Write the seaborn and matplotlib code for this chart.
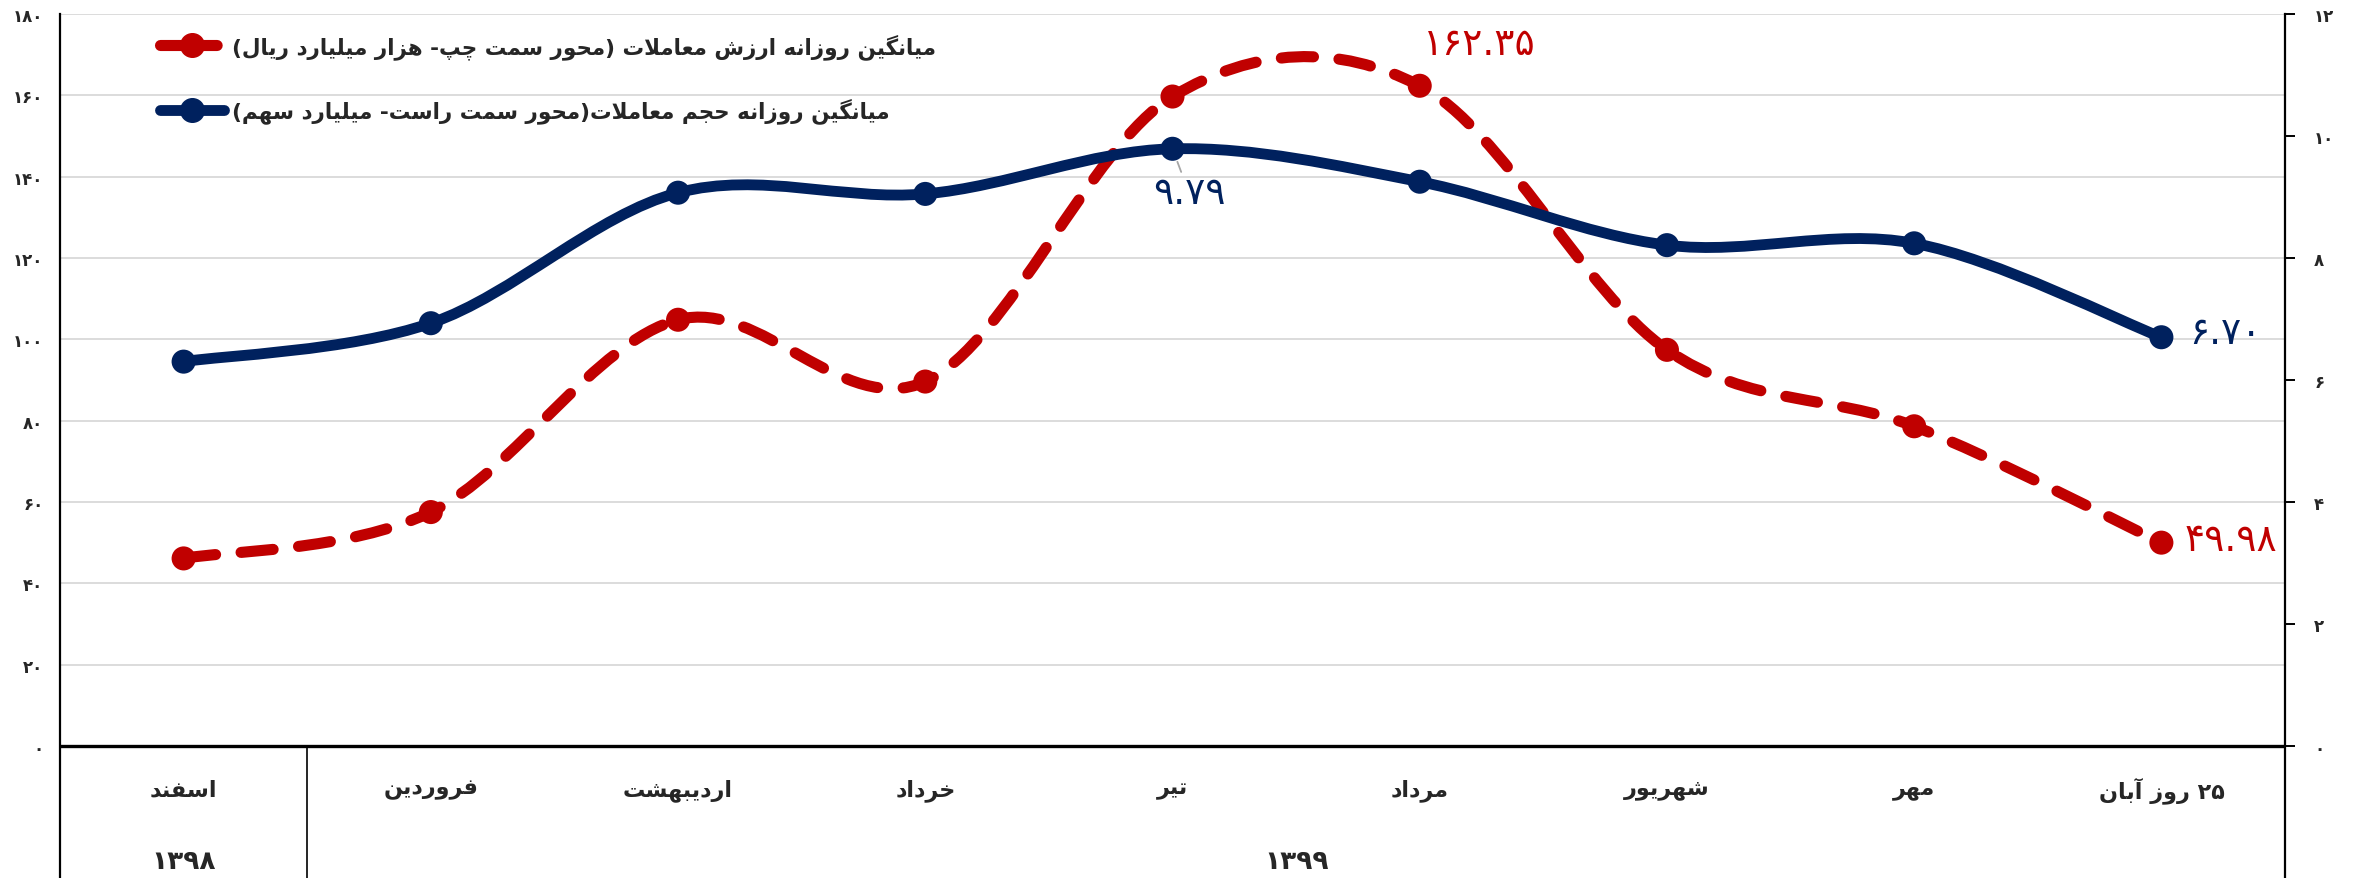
import re
import matplotlib
matplotlib.use("Agg")
import matplotlib.pyplot as plt
from matplotlib.path import Path
from matplotlib.patches import PathPatch
from matplotlib.lines import Line2D
import seaborn as sns

# data
months = ["اسفند", "فروردین", "اردیبهشت", "خرداد", "تیر", "مرداد", "شهریور", "مهر", "۲۵ روز آبان"]
years = ["۱۳۹۸", "۱۳۹۹"]
year_span = [(0, 0), (1, 8)]
value_trade = [46.1, 57.5, 104.8, 89.6, 159.7, 162.35, 97.4, 78.6, 49.98]
volume_trade = [6.30, 6.93, 9.07, 9.05, 9.79, 9.25, 8.21, 8.24, 6.70]
label_value = "میانگین روزانه ارزش معاملات (محور سمت چپ- هزار میلیارد ریال)"
label_volume = "میانگین روزانه حجم معاملات(محور سمت راست- میلیارد سهم)"
left_ticks = [0, 20, 40, 60, 80, 100, 120, 140, 160, 180]
right_ticks = [0, 2, 4, 6, 8, 10, 12]

RED = "#C00000"
BLUE = "#00215E"

# --- minimal arabic/persian shaping (matplotlib has no text shaping) ---
FORMS = {
    "ا": "\uFE8D\uFE8E", "آ": "\uFE81\uFE82", "د": "\uFEA9\uFEAA", "ذ": "\uFEAB\uFEAC",
    "ر": "\uFEAD\uFEAE", "ز": "\uFEAF\uFEB0", "ژ": "\uFB8A\uFB8B", "و": "\uFEED\uFEEE",
    "ب": "\uFE8F\uFE90\uFE91\uFE92", "پ": "\uFB56\uFB57\uFB58\uFB59",
    "ت": "\uFE95\uFE96\uFE97\uFE98", "ث": "\uFE99\uFE9A\uFE9B\uFE9C",
    "ج": "\uFE9D\uFE9E\uFE9F\uFEA0", "چ": "\uFB7A\uFB7B\uFB7C\uFB7D",
    "ح": "\uFEA1\uFEA2\uFEA3\uFEA4", "خ": "\uFEA5\uFEA6\uFEA7\uFEA8",
    "س": "\uFEB1\uFEB2\uFEB3\uFEB4", "ش": "\uFEB5\uFEB6\uFEB7\uFEB8",
    "ص": "\uFEB9\uFEBA\uFEBB\uFEBC", "ض": "\uFEBD\uFEBE\uFEBF\uFEC0",
    "ط": "\uFEC1\uFEC2\uFEC3\uFEC4", "ظ": "\uFEC5\uFEC6\uFEC7\uFEC8",
    "ع": "\uFEC9\uFECA\uFECB\uFECC", "غ": "\uFECD\uFECE\uFECF\uFED0",
    "ف": "\uFED1\uFED2\uFED3\uFED4", "ق": "\uFED5\uFED6\uFED7\uFED8",
    "ک": "\uFB8E\uFB8F\uFB90\uFB91", "گ": "\uFB92\uFB93\uFB94\uFB95",
    "ل": "\uFEDD\uFEDE\uFEDF\uFEE0", "م": "\uFEE1\uFEE2\uFEE3\uFEE4",
    "ن": "\uFEE5\uFEE6\uFEE7\uFEE8", "ه": "\uFEE9\uFEEA\uFEEB\uFEEC",
    "ی": "\uFBFC\uFBFD\uFBFE\uFBFF", "ي": "\uFEF1\uFEF2\uFEF3\uFEF4",
}
LAM_ALEF = {"ا": "\uFEFB\uFEFC", "آ": "\uFEF5\uFEF6"}


def shape(text):
    out = []
    i = 0
    n = len(text)
    while i < n:
        c = text[i]
        if c not in FORMS:
            out.append(c)
            i += 1
            continue
        prev = text[i - 1] if i > 0 else ""
        joins_prev = len(FORMS.get(prev, "")) == 4
        if c == "ل" and i + 1 < n and text[i + 1] in LAM_ALEF:
            lig = LAM_ALEF[text[i + 1]]
            out.append(lig[1] if joins_prev else lig[0])
            i += 2
            continue
        nxt = text[i + 1] if i + 1 < n else ""
        f = FORMS[c]
        joins_next = len(f) == 4 and nxt in FORMS
        if joins_prev and joins_next:
            out.append(f[3])
        elif joins_prev:
            out.append(f[1])
        elif joins_next:
            out.append(f[2])
        else:
            out.append(f[0])
        i += 1
    return "".join(out)


def rtl(text):
    s = shape(text)[::-1].translate(str.maketrans("()", ")("))
    return re.sub(r"[0-9۰-۹.]+", lambda m: m.group(0)[::-1], s)


def fa(num, fmt="{:g}"):
    return fmt.format(num).translate(str.maketrans("0123456789", "۰۱۲۳۴۵۶۷۸۹"))


def smooth_path(xs, ys):
    # excel style smoothed line: cubic bezier, catmull-rom control points
    pts = list(zip(xs, ys))
    verts = [pts[0]]
    codes = [Path.MOVETO]
    for i in range(len(pts) - 1):
        p0 = pts[i - 1] if i > 0 else pts[i]
        p1, p2 = pts[i], pts[i + 1]
        p3 = pts[i + 2] if i + 2 < len(pts) else pts[i + 1]
        c1 = (p1[0] + (p2[0] - p0[0]) / 6, p1[1] + (p2[1] - p0[1]) / 6)
        c2 = (p2[0] - (p3[0] - p1[0]) / 6, p2[1] - (p3[1] - p1[1]) / 6)
        verts += [c1, c2, p2]
        codes += [Path.CURVE4] * 3
    return Path(verts, codes)


sns.set_theme(style="white")
plt.rcParams["font.family"] = ["DejaVu Sans"]
plt.rcParams["font.weight"] = "bold"

fig = plt.figure(figsize=(23.54, 8.79), dpi=100)
ax = fig.add_axes([60 / 2354, 0, 2225 / 2354, 864 / 879])
ax2 = ax.twinx()

x = list(range(len(months)))
ymin_left = -32.5
ax.set_xlim(-0.5, len(months) - 0.5)
ax.set_ylim(ymin_left, 180)
ax2.set_ylim(ymin_left / 15, 12)

# grid
for t in left_ticks[1:]:
    ax.axhline(t, color="#D9D9D9", lw=1.3, zorder=0)
ax.axhline(0, color="black", lw=2.4, zorder=1)
ax.plot([0.5, 0.5], [ymin_left, 0], color="black", lw=1.2, clip_on=False)

# red dashed series (left axis)
ax.add_patch(PathPatch(smooth_path(x, value_trade), fill=False, edgecolor=RED, lw=8,
                       linestyle=(0, (2.9, 2.3)), capstyle="round", zorder=3))
sns.scatterplot(x=x, y=value_trade, ax=ax, color=RED, s=300, edgecolor="none", zorder=4, legend=False)

# blue series (right axis)
ax2.add_patch(PathPatch(smooth_path(x, volume_trade), fill=False, edgecolor=BLUE, lw=7.8,
                        capstyle="round", zorder=3))
sns.scatterplot(x=x, y=volume_trade, ax=ax2, color=BLUE, s=300, edgecolor="none", zorder=4, legend=False)

# data labels
lab = dict(ha="center", va="center", fontsize=27, fontweight="normal")
ax.annotate(fa(value_trade[5], "{:.2f}"), (5, value_trade[5]), xytext=(43, 30), textcoords="offset points",
            color=RED, **lab)
ax.annotate(fa(value_trade[8], "{:.2f}"), (8, value_trade[8]), xytext=(50, 2), textcoords="offset points",
            color=RED, **lab)
ax2.annotate(fa(volume_trade[4], "{:.2f}"), (4, volume_trade[4]), xytext=(12, -32), textcoords="offset points",
             color=BLUE, arrowprops=dict(arrowstyle="-", color="#A6A6A6", lw=1.3, shrinkA=0, shrinkB=10), **lab)
ax2.annotate(fa(volume_trade[8], "{:.2f}"), (8, volume_trade[8]), xytext=(46, 3), textcoords="offset points",
             color=BLUE, **lab)

# category labels under the axis
for i, m in enumerate(months):
    ax.text(i, -10.7, rtl(m), ha="center", va="center", fontsize=16, fontweight="bold")
for yl, (a, b) in zip(years, year_span):
    ax.text((a + b) / 2, -28.4, yl, ha="center", va="center", fontsize=19, fontweight="bold")

# axes cosmetics
ax.set_xticks([])
ax.set_yticks(left_ticks)
ax.set_yticklabels([fa(t) for t in left_ticks], fontsize=12, fontweight="bold")
ax.tick_params(axis="y", length=0, pad=12)
ax2.set_yticks(right_ticks)
ax2.set_yticklabels([fa(t) for t in right_ticks], fontsize=12, fontweight="bold")
ax2.tick_params(axis="y", length=7, width=1.4, direction="out", pad=14, color="black")
for a in (ax, ax2):
    a.spines["top"].set_visible(False)
    a.spines["bottom"].set_visible(False)
    a.set_facecolor("none")
ax.spines["right"].set_visible(False)
ax2.spines["left"].set_visible(False)
ax.spines["left"].set_color("black")
ax.spines["left"].set_linewidth(1.6)
ax2.spines["right"].set_color("black")
ax2.spines["right"].set_linewidth(1.6)

handles = [
    Line2D([], [], color=RED, lw=8, linestyle=(0, (2.2, 0.7)), marker="o", markersize=17, dash_capstyle="round"),
    Line2D([], [], color=BLUE, lw=7.8, marker="o", markersize=17, solid_capstyle="round"),
]
ax2.legend(handles, [rtl(label_value), rtl(label_volume)], loc="upper left", bbox_to_anchor=(0.041, 0.988),
           frameon=False, handlelength=3.0, handletextpad=0.35, labelspacing=1.8, borderaxespad=0,
           prop={"weight": "bold", "size": 15.5})

fig.savefig("out.png", dpi=100)
